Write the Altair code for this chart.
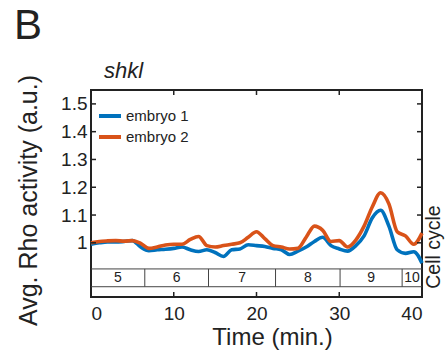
import altair as alt
import pandas as pd

# ---------------- data ----------------
time_min = list(range(0, 41))
embryo1 = [0.995, 1.000, 1.003, 1.003, 1.005, 1.008, 0.985, 0.972, 0.975, 0.977,
           0.980, 0.985, 0.975, 0.969, 0.975, 0.965, 0.951, 0.975, 0.978, 0.993,
           0.990, 0.987, 0.980, 0.975, 0.958, 0.970, 0.985, 1.005, 1.020, 0.990,
           0.978, 0.970, 0.990, 1.025, 1.090, 1.117, 1.060, 0.975, 0.962, 0.968,
           0.927]
embryo2 = [1.000, 1.005, 1.007, 1.008, 1.006, 1.008, 0.998, 0.980, 0.985, 0.992,
           0.995, 0.995, 1.012, 1.023, 0.990, 0.985, 0.990, 0.995, 1.000, 1.020,
           1.040, 1.015, 0.990, 0.985, 0.978, 0.980, 1.020, 1.060, 1.045, 1.005,
           1.008, 0.985, 1.010, 1.060, 1.130, 1.180, 1.140, 1.040, 1.025, 0.995,
           1.035]
series_names = ["embryo 1", "embryo 2"]
series_colors = ["#0072BD", "#D95319"]

x_ticks = [0, 10, 20, 30, 40]
y_ticks = [1.0, 1.1, 1.2, 1.3, 1.4, 1.5]
x_domain = [0, 40]
y_domain = [0.805, 1.55]

cycle_bounds = [0, 6.5, 14.2, 22.3, 30.1, 37.6, 40]
cycle_labels = ["5", "6", "7", "8", "9", "10"]
band_top = 0.906
band_bottom = 0.842

# ---------------- tables ----------------
df = pd.DataFrame({
    "t": time_min * 2,
    "v": embryo1 + embryo2,
    "series": [series_names[0]] * len(time_min) + [series_names[1]] * len(time_min),
})
band_df = pd.DataFrame({"y": [band_top, band_bottom]})
div_df = pd.DataFrame({"b": cycle_bounds[1:-1], "y0": band_bottom, "y1": band_top})
lab_df = pd.DataFrame({
    "mid": [(a + b) / 2 for a, b in zip(cycle_bounds[:-1], cycle_bounds[1:])],
    "lab": cycle_labels,
    "ym": (band_top + band_bottom) / 2,
})
xt_df = pd.DataFrame({"x": x_ticks})
yt_df = pd.DataFrame({"y": y_ticks})

W, H = 331, 207
FONT = "Liberation Sans"
INK = "#222222"

xs = alt.Scale(domain=x_domain, nice=False, zero=False)
ys = alt.Scale(domain=y_domain, nice=False, zero=False)

x_axis = alt.Axis(
    values=x_ticks, ticks=False, domain=False, grid=False,
    labelFontSize=19, labelPadding=7, labelColor=INK,
    title="Time (min.)", titleFontSize=24, titleFontWeight="normal",
    titleColor=INK, titleX=181, titleY=47, titleBaseline="alphabetic",
    titleAlign="center")
y_axis = alt.Axis(
    values=y_ticks, format="~g", ticks=False, domain=False, grid=False,
    labelFontSize=19, labelPadding=4, labelColor=INK,
    title="Avg. Rho activity (a.u.)", titleFontSize=25,
    titleFontWeight="normal", titleColor=INK, titleX=-55, titleY=110,
    titleAngle=270, titleBaseline="alphabetic", titleAlign="center")


def X(f):
    return alt.X(f, scale=xs, axis=x_axis)


def Y(f):
    return alt.Y(f, scale=ys, axis=y_axis)


lines = alt.Chart(df).mark_line(strokeWidth=3.6, interpolate="monotone").encode(
    x=X("t:Q"),
    y=Y("v:Q"),
    color=alt.Color("series:N",
                    scale=alt.Scale(domain=series_names, range=series_colors),
                    legend=alt.Legend(orient="none", legendX=6, legendY=13,
                                      title=None, symbolType="stroke",
                                      symbolStrokeWidth=4, symbolSize=484,
                                      labelFontSize=15, labelColor=INK,
                                      labelOffset=3, rowPadding=-1)),
)

band = alt.Chart(band_df).mark_rule(color="#444", strokeWidth=1).encode(
    y=Y("y:Q"))
dividers = alt.Chart(div_df).mark_rule(color="#444", strokeWidth=1).encode(
    x=X("b:Q"), y=Y("y0:Q"), y2="y1:Q")
cyc_text = alt.Chart(lab_df).mark_text(fontSize=14, font=FONT, color=INK,
                                        baseline="middle").encode(
    x=X("mid:Q"), y=Y("ym:Q"), text="lab:N")

tick_style = dict(color=INK, strokeWidth=1.5)
xt_bot = alt.Chart(xt_df).mark_rule(**tick_style).encode(
    x=X("x:Q"), y=alt.value(H), y2=alt.value(H - 5))
xt_top = alt.Chart(xt_df).mark_rule(**tick_style).encode(
    x=X("x:Q"), y=alt.value(0), y2=alt.value(5))
yt_left = alt.Chart(yt_df).mark_rule(**tick_style).encode(
    y=Y("y:Q"), x=alt.value(0), x2=alt.value(5))
yt_right = alt.Chart(yt_df).mark_rule(**tick_style).encode(
    y=Y("y:Q"), x=alt.value(W), x2=alt.value(W - 5))

panel_letter = alt.Chart(pd.DataFrame({"s": ["B"]})).mark_text(
    fontSize=42, font=FONT, color=INK, align="left", baseline="alphabetic"
).encode(x=alt.value(-77), y=alt.value(-51), text="s:N")
gene = alt.Chart(pd.DataFrame({"s": ["shkl"]})).mark_text(
    fontSize=22, font=FONT, fontStyle="italic", color=INK, align="left",
    baseline="alphabetic").encode(x=alt.value(13), y=alt.value(-12), text="s:N")
cell_cycle = alt.Chart(pd.DataFrame({"s": ["Cell cycle"]})).mark_text(
    fontSize=19.5, font=FONT, color=INK, align="center", baseline="alphabetic",
    angle=270).encode(x=alt.value(W + 18), y=alt.value(157), text="s:N")

chart = alt.layer(
    band, dividers, cyc_text, lines, xt_bot, xt_top, yt_left, yt_right,
    panel_letter, gene, cell_cycle
).properties(
    width=W, height=H,
    autosize=alt.AutoSizeParams(type="none"),
    padding={"left": 91, "top": 90, "right": 25, "bottom": 63},
    background="white",
).configure(font=FONT).configure_view(
    stroke=INK, strokeWidth=2
)

chart.save("out.html", embed_options={"renderer": "svg", "actions": False})
